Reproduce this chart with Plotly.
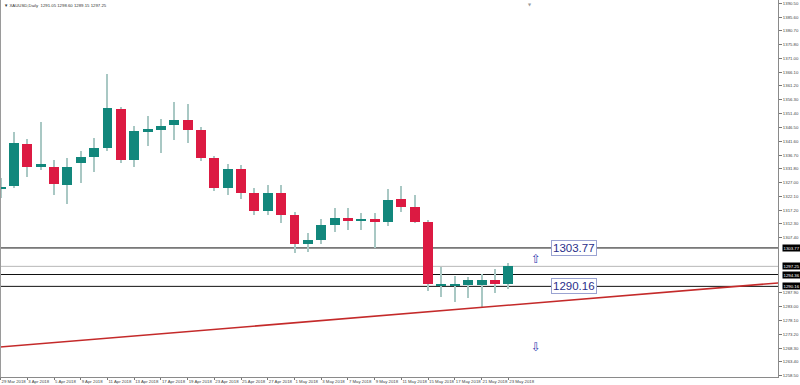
import plotly.graph_objects as go

# ---------------- data ----------------
DATES = ["29 Mar 2018", "2 Apr 2018", "3 Apr 2018", "4 Apr 2018", "5 Apr 2018", "6 Apr 2018",
         "9 Apr 2018", "10 Apr 2018", "11 Apr 2018", "12 Apr 2018", "13 Apr 2018", "16 Apr 2018",
         "17 Apr 2018", "18 Apr 2018", "19 Apr 2018", "20 Apr 2018", "23 Apr 2018", "24 Apr 2018",
         "25 Apr 2018", "26 Apr 2018", "27 Apr 2018", "30 Apr 2018", "1 May 2018", "2 May 2018",
         "3 May 2018", "4 May 2018", "7 May 2018", "8 May 2018", "9 May 2018", "10 May 2018",
         "11 May 2018", "14 May 2018", "15 May 2018", "16 May 2018", "17 May 2018", "18 May 2018",
         "21 May 2018", "22 May 2018", "23 May 2018"]

OPEN = [1324.84, 1325.83, 1340.50, 1332.35, 1332.56, 1325.97, 1333.98, 1336.10, 1339.19, 1352.90,
        1334.94, 1344.96, 1345.57, 1347.23, 1349.00, 1345.57, 1335.64, 1325.00, 1331.80, 1323.20,
        1316.80, 1323.30, 1315.50, 1305.00, 1306.50, 1312.00, 1314.40, 1313.40, 1314.00, 1312.90,
        1321.00, 1318.20, 1313.07, 1290.29, 1290.29, 1290.64, 1290.53, 1292.41, 1291.05]
HIGH = [1328.45, 1344.96, 1342.38, 1348.29, 1334.94, 1335.54, 1338.23, 1342.63, 1365.30, 1353.54,
        1347.09, 1350.53, 1349.36, 1355.59, 1354.78, 1346.63, 1336.20, 1333.50, 1333.00, 1325.00,
        1326.00, 1326.00, 1316.50, 1309.00, 1314.00, 1318.00, 1318.00, 1316.00, 1316.00, 1324.50,
        1325.80, 1322.53, 1313.67, 1296.91, 1293.83, 1293.58, 1294.54, 1296.20, 1298.60]
LOW = [1321.36, 1324.91, 1328.80, 1331.39, 1322.53, 1319.34, 1326.68, 1330.79, 1338.23, 1333.77,
       1332.56, 1339.90, 1337.52, 1342.02, 1340.85, 1334.58, 1323.95, 1322.50, 1321.00, 1315.50,
       1315.50, 1312.50, 1302.00, 1302.50, 1305.00, 1309.50, 1310.00, 1310.00, 1303.80, 1311.50,
       1316.60, 1312.72, 1288.51, 1286.28, 1284.72, 1285.93, 1282.95, 1287.70, 1289.15]
CLOSE = [1325.37, 1341.07, 1332.56, 1333.41, 1326.32, 1332.56, 1336.10, 1339.19, 1353.26, 1334.94,
         1345.21, 1345.81, 1347.09, 1349.11, 1345.67, 1335.54, 1325.01, 1331.80, 1323.20, 1316.80,
         1323.30, 1315.50, 1305.00, 1306.50, 1312.00, 1314.40, 1313.40, 1314.00, 1312.90, 1320.80,
         1318.20, 1313.07, 1290.89, 1290.64, 1290.75, 1292.52, 1292.52, 1290.99, 1297.25]

Y_TICK_LABELS = ["1258.50", "1263.40", "1268.30", "1273.20", "1278.10", "1283.00", "1287.90",
                 "1307.40", "1312.30", "1317.20", "1322.10", "1327.00", "1331.80", "1336.70",
                 "1341.60", "1346.50", "1351.40", "1356.30", "1361.20", "1366.10", "1371.00",
                 "1375.80", "1380.70", "1385.60", "1390.50"]

LEVELS_BLACK = [1303.77, 1294.36, 1290.16]   # horizontal lines
CURRENT_PRICE = 1297.25                       # grey bid line
TREND_X = [0, 58]                             # trendline anchors (bar index)
TREND_Y = [1268.69, 1291.28]                  # trendline anchors (price)
LEVEL_TEXTS = ["1303.77", "1290.16"]          # text objects on chart
LEVEL_TEXT_X = 42.9
ARROW_X = 40.07
ARROW_UP_Y = 1300.0
ARROW_DN_Y = 1268.6
SHIFT_MARK_X = 39.6
SYMBOL = "XAUUSD,Daily"

# ---------------- styling ----------------
UP = "#12877c"
DN = "#dc1a42"
WICK = "#a9c8c4"
FONT = "Liberation Sans, Arial, sans-serif"

x = list(range(len(DATES)))
body_base = [min(o, c) for o, c in zip(OPEN, CLOSE)]
body_h = [max(abs(c - o), 0.4) for o, c in zip(OPEN, CLOSE)]
body_col = [UP if c >= o else DN for o, c in zip(OPEN, CLOSE)]

fig = go.Figure()
fig.add_trace(go.Bar(x=x, y=[h - l for h, l in zip(HIGH, LOW)], base=LOW, width=0.075,
                     marker=dict(color=WICK, line=dict(width=0)), hoverinfo="skip",
                     showlegend=False))
fig.add_trace(go.Bar(x=x, y=body_h, base=body_base, width=0.745,
                     marker=dict(color=body_col, line=dict(width=0)), showlegend=False))

shapes = []
for lv in LEVELS_BLACK:
    shapes.append(dict(type="line", xref="paper", x0=0, x1=1, yref="y", y0=lv, y1=lv,
                       line=dict(color="#111111", width=1), layer="below"))
shapes.append(dict(type="line", xref="paper", x0=0, x1=1, yref="y", y0=CURRENT_PRICE,
                   y1=CURRENT_PRICE, line=dict(color="#b8b8b8", width=1), layer="below"))
# trendline as a ray through its two anchors, extended across the view
slope = (TREND_Y[1] - TREND_Y[0]) / (TREND_X[1] - TREND_X[0])
xa, xb = -2, 62
shapes.append(dict(type="line", xref="x", yref="y", x0=xa, x1=xb,
                   y0=TREND_Y[0] + slope * (xa - TREND_X[0]),
                   y1=TREND_Y[0] + slope * (xb - TREND_X[0]),
                   line=dict(color="#c42a2a", width=1.6)))
# left border
shapes.append(dict(type="line", xref="paper", yref="paper", x0=0, x1=0, y0=0, y1=1,
                   line=dict(color="#9a9a9a", width=2)))

annotations = []
# title
annotations.append(dict(xref="paper", yref="paper", x=0, y=1, xanchor="left", yanchor="top",
                        xshift=2, yshift=-1, showarrow=False,
                        text="▼ %s  %.2f %.2f %.2f %.2f" % (SYMBOL, OPEN[-1], HIGH[-1], LOW[-1], CLOSE[-1]),
                        font=dict(family=FONT, size=4.3, color="#333333")))
# chart shift marker
annotations.append(dict(xref="x", yref="paper", x=SHIFT_MARK_X, y=1, yanchor="top", showarrow=False,
                        text="▼", font=dict(family="DejaVu Sans", size=4, color="#9a9a9a")))
# level text boxes
for t in LEVEL_TEXTS:
    annotations.append(dict(xref="x", yref="y", x=LEVEL_TEXT_X, y=float(t), text=t,
                            showarrow=False, xanchor="center", yanchor="middle",
                            font=dict(family=FONT, size=11.5, color="#2a2f8a"),
                            bgcolor="white", bordercolor="#9aa3d2", borderwidth=1, borderpad=1))
# arrows
annotations.append(dict(xref="x", yref="y", x=ARROW_X, y=ARROW_UP_Y, text="⇧", showarrow=False,
                        font=dict(family="DejaVu Sans", size=12, color="#3040b0")))
annotations.append(dict(xref="x", yref="y", x=ARROW_X, y=ARROW_DN_Y, text="⇩", showarrow=False,
                        font=dict(family="DejaVu Sans", size=12, color="#3040b0")))
# highlighted price labels on the axis
for v in LEVELS_BLACK + [CURRENT_PRICE]:
    annotations.append(dict(xref="paper", yref="y", x=1, y=v, xanchor="left", yanchor="middle",
                            xshift=4, text="%.2f" % v, showarrow=False,
                            font=dict(family=FONT, size=4.3, color="white"),
                            bgcolor="#000000", borderpad=0.5))

fig.update_layout(
    width=800, height=385,
    margin=dict(l=0, r=22, t=0, b=8),
    paper_bgcolor="white", plot_bgcolor="white",
    barmode="overlay", bargap=0,
    shapes=shapes, annotations=annotations,
    showlegend=False,
    xaxis=dict(range=[-0.045, 58.19], tickmode="array", tickvals=x[::2], ticktext=DATES[::2],
               ticks="outside", ticklen=2, tickcolor="#777777", tickwidth=1, tickangle=0,
               ticklabelposition="outside right",
               tickfont=dict(family=FONT, size=4.3, color="#444444"),
               showline=True, linecolor="#8a8a8a", linewidth=1, showgrid=False, zeroline=False,
               fixedrange=True),
    yaxis=dict(side="right", range=[1258.04, 1391.63], tickmode="array",
               tickvals=[float(t) for t in Y_TICK_LABELS], ticktext=Y_TICK_LABELS,
               ticks="outside", ticklen=3, tickcolor="#777777", tickwidth=1,
               tickfont=dict(family=FONT, size=4.3, color="#444444"),
               showline=True, linecolor="#8a8a8a", linewidth=1, showgrid=False, zeroline=False,
               fixedrange=True),
)

fig.write_html("out.html", config={"displayModeBar": False},
               post_script="document.body.style.margin='0';document.body.style.overflow='hidden';")
